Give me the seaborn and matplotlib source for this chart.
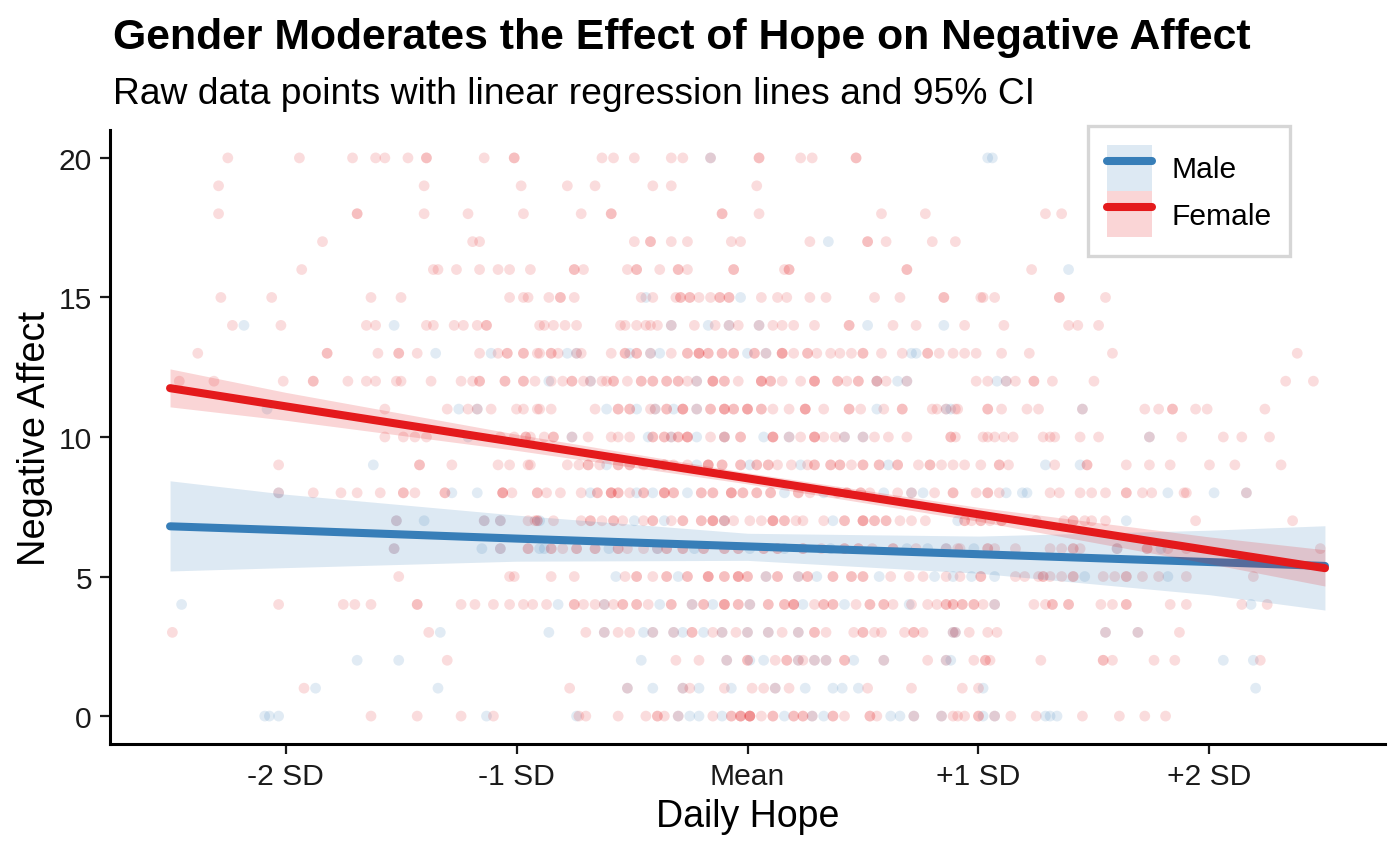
import numpy as np
import pandas as pd
import matplotlib
matplotlib.use("Agg")
import matplotlib.pyplot as plt
import seaborn as sns
from matplotlib.patches import Patch
from matplotlib.lines import Line2D
from matplotlib.legend_handler import HandlerTuple

# ---------------- data (hope in SD units, negative affect integer rows) ----------------
f20 = [-2.25, -1.94, -1.71, -1.61, -1.57, -1.47, -1.39, -1.39, -1.14, -1.01, -1.01, -0.63, -0.58, -0.49, -0.33, -0.28, -0.16, 0.05, 0.05, 0.23, 0.28, 0.47, 0.47]
m20 = [-0.16, 1.04, 1.06]
f19 = [-2.29, -1.40, -0.98, -0.78, -0.66, -0.41, -0.33, 0.04]
m19 = []
f18 = [-2.29, -1.69, -1.69, -1.40, -1.21, -0.97, -0.72, -0.59, -0.59, -0.11, -0.11, 0.05, 0.58, 0.77, 1.29, 1.36]
m18 = []
f17 = [-1.84, -1.19, -1.16, -0.49, -0.42, -0.42, -0.33, -0.26, -0.07, -0.03, 0.27, 0.52, 0.52, 0.60, 0.80, 0.90]
m17 = [0.35]
f16 = [-1.93, -1.36, -1.34, -1.26, -1.16, -1.08, -1.03, -0.94, -0.75, -0.75, -0.71, -0.52, -0.48, -0.48, -0.38, -0.30, -0.30, -0.26, -0.06, -0.06, 0.16, 0.18, 0.18, 0.69, 0.69, 1.23]
m16 = [1.39]
f15 = [-2.28, -2.06, -1.63, -1.50, -1.03, -0.97, -0.95, -0.86, -0.81, -0.81, -0.75, -0.46, -0.41, -0.31, -0.29, -0.29, -0.25, -0.25, -0.21, -0.16, -0.12, -0.12, -0.08, -0.08, 0.06, 0.13, 0.17, 0.27, 0.34, 0.55, 0.66, 0.85, 0.85, 1.01, 1.02, 1.07, 1.35, 1.35, 1.55]
m15 = [-0.44, -0.03]
f14 = [-2.23, -2.02, -1.65, -1.61, -1.39, -1.36, -1.27, -1.23, -1.17, -1.13, -1.13, -0.90, -0.88, -0.84, -0.79, -0.74, -0.55, -0.53, -0.48, -0.44, -0.42, -0.39, -0.33, -0.23, -0.14, -0.08, -0.04, 0.05, 0.11, 0.15, 0.20, 0.29, 0.44, 0.44, 0.63, 0.73, 0.94, 1.11, 1.39, 1.43, 1.52]
m14 = [-2.18, -1.53, -0.33, -0.17, -0.08, 0.05, 0.52, 0.85]
f13 = [-2.38, -1.82, -1.82, -1.60, -1.51, -1.51, -1.43, -1.16, -1.08, -1.04, -1.04, -0.97, -0.97, -0.91, -0.90, -0.85, -0.85, -0.82, -0.74, -0.72, -0.59, -0.53, -0.53, -0.48, -0.48, -0.42, -0.33, -0.26, -0.26, -0.21, -0.21, -0.21, -0.17, -0.17, -0.11, -0.11, -0.06, -0.06, 0.03, 0.03, 0.08, 0.15, 0.15, 0.15, 0.20, 0.26, 0.26, 0.30, 0.36, 0.40, 0.45, 0.50, 0.50, 0.58, 0.67, 0.78, 0.78, 0.83, 0.89, 0.94, 0.99, 1.10, 1.22, 1.58, 2.38]
m13 = [-1.35, -1.11, -0.78, -0.74, -0.51, -0.42, -0.38, 0.00, 0.08, 0.71, 0.73]
f12 = [-2.46, -2.31, -2.01, -1.88, -1.88, -1.73, -1.65, -1.61, -1.52, -1.50, -1.37, -1.24, -1.19, -1.16, -1.16, -1.05, -1.05, -0.97, -0.97, -0.92, -0.85, -0.80, -0.76, -0.76, -0.71, -0.68, -0.63, -0.61, -0.58, -0.58, -0.52, -0.46, -0.46, -0.41, -0.41, -0.35, -0.35, -0.30, -0.30, -0.26, -0.22, -0.15, -0.15, -0.15, -0.10, -0.10, -0.04, 0.06, 0.06, 0.06, 0.10, 0.10, 0.15, 0.23, 0.29, 0.29, 0.29, 0.39, 0.39, 0.43, 0.48, 0.48, 0.56, 0.56, 0.60, 0.69, 0.99, 1.04, 1.12, 1.16, 1.24, 1.24, 1.32, 1.50, 2.33, 2.45]
m12 = [-0.86, -0.68, -0.22, 0.56, 0.65, 0.69, 1.08, 1.12]
f11 = [-1.57, -1.30, -1.21, -1.17, -1.11, -1.00, -0.97, -0.91, -0.90, -0.85, -0.66, -0.56, -0.56, -0.51, -0.51, -0.42, -0.40, -0.35, -0.35, -0.28, -0.28, -0.28, -0.22, -0.16, -0.16, -0.10, -0.10, -0.10, -0.06, -0.06, 0.00, 0.00, 0.00, 0.06, 0.06, 0.11, 0.18, 0.25, 0.25, 0.25, 0.33, 0.44, 0.44, 0.49, 0.59, 0.67, 0.67, 0.80, 0.82, 0.86, 0.90, 0.91, 1.04, 1.04, 1.10, 1.21, 1.26, 1.45, 1.72, 1.78, 1.84, 1.84, 1.94, 1.99, 2.24]
m11 = [-2.08, -1.25, -1.17, -0.61, -0.48, -0.40, -0.32, -0.22, 0.56, 0.86, 0.88, 1.45]
f10 = [-1.57, -1.49, -1.44, -1.39, -1.07, -1.01, -0.96, -0.96, -0.94, -0.88, -0.84, -0.84, -0.76, -0.69, -0.59, -0.56, -0.51, -0.41, -0.41, -0.36, -0.36, -0.33, -0.30, -0.30, -0.26, -0.26, -0.26, -0.16, -0.10, -0.10, -0.03, -0.03, 0.11, 0.11, 0.11, 0.18, 0.23, 0.29, 0.29, 0.29, 0.33, 0.38, 0.42, 0.50, 0.55, 0.61, 0.69, 0.88, 0.88, 0.90, 1.02, 1.04, 1.07, 1.11, 1.15, 1.28, 1.31, 1.33, 1.44, 1.52, 1.74, 1.88, 2.06, 2.14, 2.26]
m10 = [-1.21, -0.76, -0.43, -0.33, -0.22, -0.10, 0.07, 0.18, 0.42, 0.50, 1.74]
f9 = [-2.03, -1.42, -1.42, -1.28, -1.08, -1.03, -0.95, -0.94, -0.78, -0.73, -0.69, -0.69, -0.64, -0.56, -0.56, -0.51, -0.51, -0.45, -0.36, -0.36, -0.32, -0.26, -0.17, -0.17, -0.17, -0.11, -0.11, -0.03, -0.03, 0.04, 0.04, 0.09, 0.09, 0.13, 0.19, 0.26, 0.29, 0.29, 0.36, 0.36, 0.40, 0.40, 0.45, 0.50, 0.50, 0.57, 0.57, 0.65, 0.65, 0.74, 0.79, 0.79, 0.84, 0.89, 0.94, 1.01, 1.09, 1.09, 1.13, 1.33, 1.47, 1.47, 1.64, 1.74, 1.83, 2.00, 2.11, 2.31]
m9 = [-1.62, -0.61, -0.39, -0.22, 0.01, 0.23, 0.61, 1.29, 1.44]
f8 = [-2.03, -1.88, -1.76, -1.69, -1.59, -1.49, -1.49, -1.44, -1.31, -1.31, -1.06, -1.06, -1.06, -1.02, -0.91, -0.91, -0.87, -0.81, -0.72, -0.65, -0.65, -0.59, -0.59, -0.59, -0.56, -0.56, -0.51, -0.45, -0.45, -0.36, -0.36, -0.36, -0.32, -0.32, -0.20, -0.20, -0.15, -0.15, -0.07, -0.07, -0.07, -0.02, -0.02, 0.04, 0.04, 0.10, 0.10, 0.22, 0.22, 0.27, 0.39, 0.43, 0.43, 0.49, 0.49, 0.53, 0.65, 0.71, 0.81, 0.89, 0.89, 0.99, 1.04, 1.04, 1.09, 1.31, 1.35, 1.44, 1.49, 1.55, 1.64, 1.64, 1.71, 1.75, 1.89, 1.90, 2.16]
m8 = [-2.03, -1.28, -1.17, -0.68, -0.48, -0.41, -0.26, 0.16, 0.33, 0.59, 0.71, 0.76, 1.12, 1.19, 1.21, 1.82, 2.02, 2.16]
f7 = [-1.52, -1.14, -1.07, -0.95, -0.91, -0.91, -0.92, -0.84, -0.72, -0.68, -0.68, -0.63, -0.58, -0.58, -0.54, -0.45, -0.41, -0.41, -0.33, -0.28, -0.28, -0.20, -0.20, -0.15, -0.15, -0.15, -0.10, -0.10, -0.06, 0.01, 0.06, 0.11, 0.11, 0.11, 0.16, 0.16, 0.21, 0.24, 0.33, 0.42, 0.42, 0.50, 0.50, 0.50, 0.55, 0.55, 0.60, 0.60, 0.66, 0.71, 0.77, 0.94, 0.94, 0.97, 1.01, 1.01, 1.05, 1.10, 1.10, 1.25, 1.37, 1.41, 1.41, 1.46, 1.49, 1.55, 1.94, 2.36]
m7 = [-1.52, -1.40, -1.14, -1.07, -0.90, -0.49, -0.36, -0.10, 0.37, 0.91, 1.64]
f6 = [-1.53, -1.07, -0.95, -0.95, -0.85, -0.85, -0.80, -0.74, -0.74, -0.66, -0.66, -0.56, -0.56, -0.52, -0.45, -0.39, -0.35, -0.35, -0.28, -0.28, -0.19, -0.19, -0.10, -0.10, -0.04, -0.04, 0.07, 0.07, 0.13, 0.13, 0.24, 0.24, 0.32, 0.42, 0.42, 0.48, 0.48, 0.54, 0.63, 0.63, 0.73, 0.86, 0.91, 0.92, 1.04, 1.04, 1.07, 1.16, 1.31, 1.36, 1.41, 1.41, 1.44, 1.60, 1.73, 1.73, 1.82, 1.90, 2.48]
m6 = [-1.53, -1.15, -1.07, -0.90, -0.88, -0.60, -0.39, -0.23, 0.01, 0.16, 0.36, 0.69, 0.78, 0.86, 0.98, 1.60, 1.79]
f5 = [-1.51, -1.03, -1.01, -0.85, -0.75, -0.53, -0.48, -0.48, -0.41, -0.35, -0.35, -0.26, -0.26, -0.17, -0.17, -0.17, -0.10, -0.10, -0.04, -0.04, -0.04, 0.00, 0.00, 0.08, 0.13, 0.13, 0.22, 0.26, 0.26, 0.37, 0.37, 0.45, 0.45, 0.50, 0.50, 0.62, 0.70, 0.76, 0.86, 0.92, 1.01, 1.01, 1.16, 1.20, 1.26, 1.28, 1.28, 1.31, 1.36, 1.41, 1.41, 1.54, 1.59, 1.64, 1.64, 1.71, 1.78, 1.90, 2.19]
m5 = [-0.57, -0.30, 0.08, 0.22, 0.30, 0.57, 0.81, 0.89, 0.97, 1.07, 1.46, 1.82]
f4 = [-2.03, -1.75, -1.70, -1.63, -1.43, -1.43, -1.24, -1.18, -1.10, -1.03, -0.97, -0.93, -0.87, -0.75, -0.75, -0.71, -0.66, -0.62, -0.58, -0.54, -0.54, -0.48, -0.48, -0.43, -0.33, -0.33, -0.24, -0.19, -0.19, -0.10, -0.10, -0.10, -0.04, -0.04, 0.01, 0.09, 0.09, 0.16, 0.16, 0.20, 0.20, 0.20, 0.29, 0.33, 0.33, 0.37, 0.37, 0.47, 0.53, 0.53, 0.59, 0.59, 0.63, 0.71, 0.78, 0.82, 0.86, 0.86, 0.89, 0.89, 0.93, 0.93, 0.98, 0.98, 1.02, 1.07, 1.24, 1.29, 1.32, 1.32, 1.39, 1.39, 1.53, 1.58, 1.64, 1.64, 1.83, 1.90, 2.14, 2.25]
m4 = [-2.45, -0.82, -0.62, -0.38, -0.24, -0.15, 0.01, 0.24, 0.42, 0.70, 1.07, 2.18]
f3 = [-2.49, -1.38, -0.70, -0.62, -0.56, -0.51, -0.41, -0.32, -0.24, -0.24, -0.15, -0.11, -0.05, 0.00, 0.09, 0.15, 0.22, 0.29, 0.29, 0.34, 0.46, 0.50, 0.50, 0.55, 0.58, 0.68, 0.72, 0.72, 0.76, 0.89, 0.90, 0.96, 1.04, 1.08, 1.55, 1.69, 1.87]
m3 = [-1.33, -0.86, -0.62, -0.45, -0.41, -0.32, -0.28, -0.19, -0.11, 0.00, 0.09, 0.22, 0.89, 0.90, 1.55, 1.69]
f2 = [-1.30, -0.31, -0.21, -0.09, 0.00, 0.00, 0.12, 0.17, 0.17, 0.22, 0.24, 0.29, 0.34, 0.42, 0.42, 0.59, 0.78, 0.86, 0.98, 1.03, 1.03, 1.05, 1.27, 1.54, 1.54, 1.58, 1.76, 1.85, 2.22]
m2 = [-1.69, -1.51, -0.46, -0.09, 0.01, 0.07, 0.22, 0.29, 0.34, 0.46, 0.59, 0.86, 0.88, 2.06, 2.19]
f1 = [-1.92, -0.77, -0.52, -0.28, -0.25, -0.10, 0.02, 0.07, 0.12, 0.18, 0.52, 0.71, 0.93, 1.00]
m1 = [-1.87, -1.34, -0.52, -0.41, -0.28, -0.21, -0.07, 0.12, 0.25, 0.37, 0.41, 0.48, 1.02, 2.20]
f0 = [-1.63, -1.43, -1.24, -1.10, -0.73, -0.70, -0.56, -0.44, -0.39, -0.39, -0.36, -0.30, -0.15, -0.07, -0.07, -0.03, -0.03, -0.03, 0.01, 0.01, 0.01, 0.01, 0.06, 0.11, 0.11, 0.20, 0.20, 0.24, 0.24, 0.28, 0.37, 0.37, 0.42, 0.53, 0.53, 0.56, 0.72, 0.84, 0.89, 0.91, 0.94, 1.00, 1.00, 1.07, 1.14, 1.25, 1.45, 1.61, 1.72, 1.81]
m0 = [-2.09, -2.07, -2.03, -1.13, -0.74, -0.30, -0.25, -0.21, -0.11, 0.16, 0.28, 0.33, 0.62, 0.66, 0.72, 0.84, 1.02, 1.07, 1.29, 1.31, 1.34]

female_rows = [f0, f1, f2, f3, f4, f5, f6, f7, f8, f9, f10, f11, f12, f13, f14, f15, f16, f17, f18, f19, f20]
male_rows = [m0, m1, m2, m3, m4, m5, m6, m7, m8, m9, m10, m11, m12, m13, m14, m15, m16, m17, m18, m19, m20]

# fitted regression lines and 95% CI
fit_x = [-2.5, -2.0, -1.0, 0.0, 1.0, 2.0, 2.5]
female_fit = [11.75, 11.10, 9.81, 8.52, 7.23, 5.94, 5.30]
female_lo = [11.08, 10.60, 9.52, 8.32, 6.98, 5.46, 4.66]
female_hi = [12.44, 11.60, 10.10, 8.72, 7.48, 6.42, 5.96]
male_fit = [6.80, 6.66, 6.36, 6.08, 5.80, 5.52, 5.38]
male_lo = [5.20, 5.32, 5.55, 5.58, 5.12, 4.35, 3.80]
male_hi = [8.43, 7.95, 7.20, 6.55, 6.45, 6.66, 6.82]

tick_pos = [-2, -1, 0, 1, 2]
tick_labels = ["-2 SD", "-1 SD", "Mean", "+1 SD", "+2 SD"]
y_ticks = [0, 5, 10, 15, 20]

MALE_C = "#377EB8"
FEMALE_C = "#E41A1C"

# ---------------- build frame ----------------
recs = []
for yv, xs in enumerate(male_rows):
    for xv in xs:
        recs.append(("Male", xv, yv))
for yv, xs in enumerate(female_rows):
    for xv in xs:
        recs.append(("Female", xv, yv))
df = pd.DataFrame(recs, columns=["gender", "hope", "na"])

sns.set_theme(style="white")
plt.rcParams["font.family"] = ["Liberation Sans", "DejaVu Sans"]
plt.rcParams["text.color"] = "black"

fig = plt.figure(figsize=(7, 4.27), dpi=200)
ax = fig.add_axes([110 / 1400, 1 - 745 / 854, (1385 - 110) / 1400, (745 - 131) / 854])

sns.scatterplot(data=df, x="hope", y="na", hue="gender",
                palette={"Male": MALE_C, "Female": FEMALE_C},
                hue_order=["Male", "Female"], alpha=0.15, s=15,
                linewidth=0, legend=False, ax=ax, zorder=1)

ax.fill_between(fit_x, male_lo, male_hi, color=MALE_C, alpha=0.17, lw=0, zorder=2)
sns.lineplot(x=fit_x, y=male_fit, color=MALE_C, lw=2.9, ax=ax, zorder=3)
ax.fill_between(fit_x, female_lo, female_hi, color=FEMALE_C, alpha=0.18, lw=0, zorder=4)
sns.lineplot(x=fit_x, y=female_fit, color=FEMALE_C, lw=2.9, ax=ax, zorder=5)

ax.set_xlim(-2.76, 2.76)
ax.set_ylim(-1, 21)
ax.set_xticks(tick_pos)
ax.set_xticklabels(tick_labels)
ax.set_yticks(y_ticks)
ax.tick_params(axis="both", which="major", labelsize=10.8, colors="#1a1a1a",
               length=3.5, width=0.8, direction="out", bottom=True, left=True, pad=3)
ax.set_xlabel("Daily Hope", fontsize=13.5, color="black", labelpad=3)
ax.set_ylabel("Negative Affect", fontsize=13.7, color="black", labelpad=2)

for side in ["top", "right"]:
    ax.spines[side].set_visible(False)
for side in ["left", "bottom"]:
    ax.spines[side].set_color("black")
    ax.spines[side].set_linewidth(1.1)

handles = [
    (Patch(facecolor=MALE_C, alpha=0.17, lw=0), Line2D([], [], color=MALE_C, lw=2.9)),
    (Patch(facecolor=FEMALE_C, alpha=0.18, lw=0), Line2D([], [], color=FEMALE_C, lw=2.9)),
]
leg = ax.legend(handles, ["Male", "Female"], handler_map={tuple: HandlerTuple(ndivide=1, pad=0)},
                loc="upper right", bbox_to_anchor=(1290 / 1400, 1 - 127 / 854),
                bbox_transform=fig.transFigure, borderaxespad=0, frameon=True,
                fontsize=10.8, handlelength=1.5, handleheight=2.0, labelspacing=0.0,
                handletextpad=0.65, borderpad=0.62, fancybox=False)
leg.get_frame().set_edgecolor("#cccccc")
leg.get_frame().set_linewidth(1.2)
for t in leg.get_texts():
    t.set_color("black")

fig.text(113 / 1400, 1 - 38 / 854, "Gender Moderates the Effect of Hope on Negative Affect",
         fontsize=15.4, fontweight="bold", ha="left", va="center", color="black")
fig.text(113 / 1400, 1 - 94 / 854, "Raw data points with linear regression lines and 95% CI",
         fontsize=13.4, ha="left", va="center", color="black")

fig.savefig("out.png", dpi=200)
